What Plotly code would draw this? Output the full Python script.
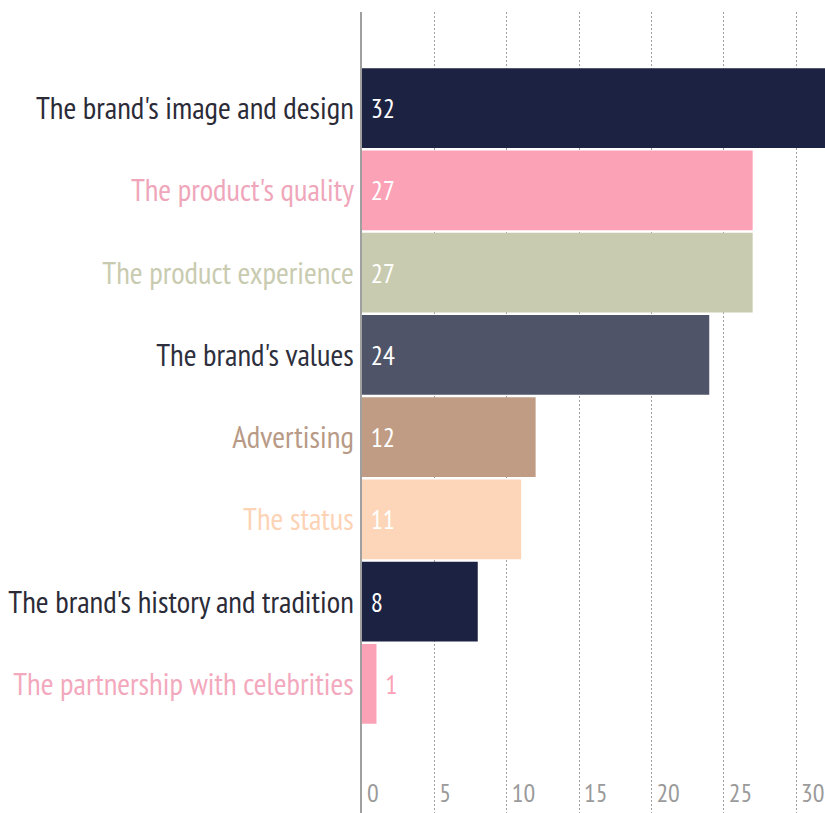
import plotly.graph_objects as go

categories = [
    "The brand's image and design",
    "The product's quality",
    "The product experience",
    "The brand's values",
    "Advertising",
    "The status",
    "The brand's history and tradition",
    "The partnership with celebrities",
]
values = [32, 27, 27, 24, 12, 11, 8, 1]
bar_colors = ["#1c2241", "#fba2b7", "#c9cbb0", "#4f5468", "#c09c84", "#fdd6ba", "#1c2241", "#fba2b7"]
label_colors = ["#2b2b38", "#f0a6ba", "#c9cbb0", "#2e2f3d", "#b89a86", "#fdd3b6", "#2b2b38", "#f3a9bd"]
x_ticks = [0, 5, 10, 15, 20, 25, 30]

FONT = "Liberation Sans Narrow, PT Sans Narrow, Roboto Condensed, Roboto, sans-serif"

tick_text = [f"<span style='color:{c}'>{t}</span>" for t, c in zip(categories, label_colors)]
text_pos = ["inside" if v >= 3 else "outside" for v in values]
text_col = ["#ffffff" if v >= 3 else c for v, c in zip(values, bar_colors)]

fig = go.Figure(go.Bar(
    x=values,
    y=categories,
    orientation="h",
    marker=dict(color=bar_colors, line=dict(width=0)),
    text=["\u00a0" + str(v) for v in values],
    textposition=text_pos,
    insidetextanchor="start",
    textfont=dict(family=FONT, size=27, color=text_col),
    cliponaxis=False,
))

fig.update_layout(
    width=825, height=813,
    margin=dict(l=362, r=0, t=12, b=0),
    paper_bgcolor="white", plot_bgcolor="white",
    bargap=0.03,
    showlegend=False,
    font=dict(family=FONT),
)
fig.update_xaxes(
    range=[0, 32],
    tickvals=x_ticks,
    ticktext=[str(t) for t in x_ticks],
    ticklabelposition="inside right",
    ticklabelshift=5,
    tickfont=dict(family=FONT, size=26, color="#9a9a9a"),
    showgrid=True, gridcolor="#a0a0a0", griddash="2px,2px", gridwidth=1,
    zeroline=False, showline=False, ticks="",
)
fig.update_yaxes(
    type="category",
    categoryorder="array", categoryarray=categories,
    tickvals=categories, ticktext=tick_text,
    range=[8.57, -1.17],
    tickfont=dict(family=FONT, size=31),
    showline=True, linecolor="#a0a0a0", linewidth=2,
    showgrid=False, ticks="",
)

fig.write_html("out.html")
